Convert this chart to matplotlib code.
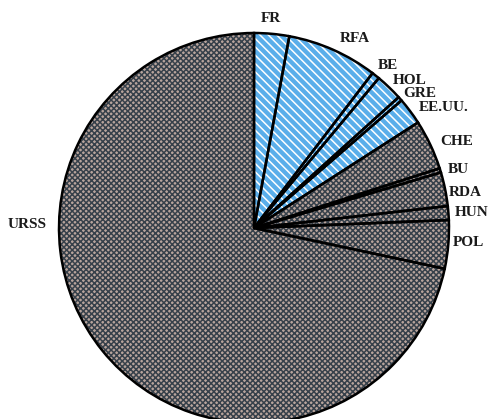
import matplotlib.pyplot as plt
import numpy as np

# cuota de cada pais (%)
paises = ['FR', 'RFA', 'BE', 'HOL', 'GRE', 'EE.UU.', 'CHE', 'BU', 'RDA', 'HUN', 'POL', 'URSS']
cuota = [2.9, 7.5, 0.65, 2.25, 0.35, 2.25, 4.15, 0.35, 2.8, 1.15, 4.0, 71.65]
bloque = ['oeste'] * 6 + ['este'] * 6

# posicion de las etiquetas (grados en sentido horario desde arriba, radio)
ang_etiq = [4.6, 28, 39.4, 46.5, 51, 57.6, 67, 74, 80.4, 86, 94, 270.8]
rad_etiq = [1.08, 1.10, 1.08, 1.10, 1.095, 1.15, 1.13, 1.09, 1.10, 1.12, 1.10, 1.165]

estilo = {
    'oeste': dict(face='#5aaeea', hatch='\\\\\\\\', hc='white'),
    'este': dict(face='#b8a49c', hatch='xxxxxx', hc='#36404a'),
}

plt.rcParams['hatch.linewidth'] = 1.1

fig = plt.figure(figsize=(4.92, 4.19), dpi=100)
ax = fig.add_axes([0, 0, 1, 1])

wedges, _ = ax.pie(cuota, startangle=90, counterclock=False,
                   wedgeprops=dict(linewidth=0))
for w, b in zip(wedges, bloque):
    s = estilo[b]
    w.set_facecolor(s['face'])
    w.set_hatch(s['hatch'])
    w.set_edgecolor(s['hc'])

# contornos negros encima
ax.pie(cuota, startangle=90, counterclock=False,
       wedgeprops=dict(fill=False, edgecolor='black', linewidth=1.8))

for nombre, a, r in zip(paises, ang_etiq, rad_etiq):
    t = np.deg2rad(a)
    ax.text(r * np.sin(t), r * np.cos(t), nombre, ha='center', va='center',
            fontsize=11, fontweight='bold', family='Liberation Serif',
            color='#1a1a1a')

ax.set_xlim(-254 / 195, (492 - 254) / 195)
ax.set_ylim((228 - 419) / 195, 228 / 195)
ax.set_aspect('auto')
ax.axis('off')

fig.savefig('out.png', dpi=100)
